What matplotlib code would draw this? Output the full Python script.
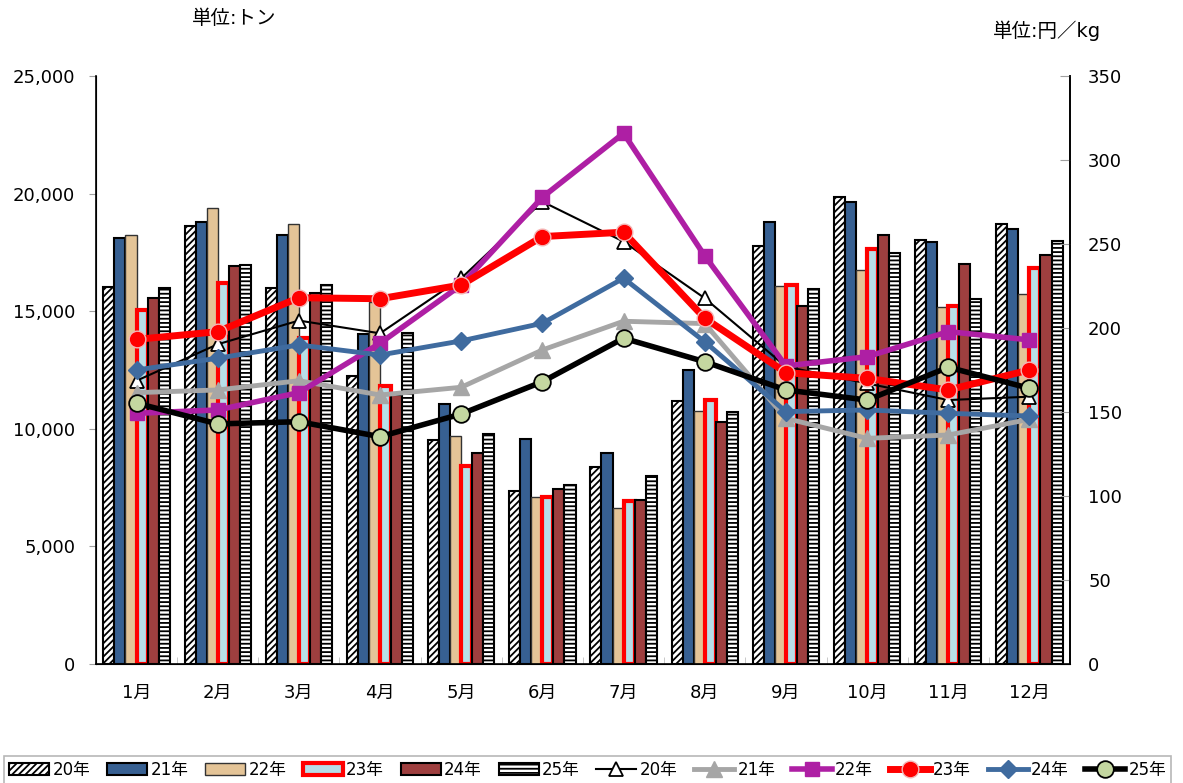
import numpy as np
import matplotlib
matplotlib.use("Agg")
import matplotlib.pyplot as plt
from matplotlib.ticker import FuncFormatter, MultipleLocator

plt.rcParams['font.family'] = ['DejaVu Sans', 'Noto Sans CJK JP']
plt.rcParams['hatch.linewidth'] = 1.3

months = ['1月', '2月', '3月', '4月', '5月', '6月', '7月', '8月', '9月', '10月', '11月', '12月']
years = ['20年', '21年', '22年', '23年', '24年', '25年']

# 入荷量 (トン)
vol20 = [16030, 18640, 16000, 12240, 9520, 7370, 8360, 11160, 17760, 19850, 18010, 18690]
vol21 = [18110, 18780, 18230, 14030, 11050, 9550, 8960, 12510, 18770, 19630, 17950, 18490]
vol22 = [18240, 19400, 18710, 15400, 9690, 7110, 6620, 10760, 16090, 16740, 15170, 15710]
vol23 = [15050, 16190, 13850, 11820, 8430, 7090, 6930, 11220, 16130, 17640, 15200, 16820]
vol24 = [15550, 16920, 15790, 11440, 8960, 7430, 6970, 10280, 15240, 18240, 17020, 17380]
vol25 = [15990, 16960, 16110, 14060, 9780, 7620, 8000, 10710, 15960, 17490, 15520, 17980]

# 価格 (円/kg)
price20 = [168.6, 190.3, 204.4, 196.8, 229.6, 275.2, 251.4, 217.7, 177.0, 167.0, 157.1, 159.1]
price21 = [161.5, 163.1, 168.6, 160.1, 164.7, 186.9, 204.0, 202.6, 146.2, 134.3, 136.3, 145.6]
price22 = [149.2, 151.2, 161.5, 190.9, 225.6, 277.8, 315.9, 242.9, 177.4, 182.9, 197.8, 192.9]
price23 = [193.2, 197.8, 218.0, 217.4, 225.6, 254.4, 257.0, 205.8, 173.4, 170.0, 163.1, 175.0]
price24 = [175.0, 182.0, 189.9, 183.9, 192.3, 202.8, 229.6, 191.8, 150.2, 151.2, 149.2, 147.6]
price25 = [155.2, 142.9, 144.2, 135.3, 148.8, 168.0, 193.9, 179.9, 163.1, 157.1, 176.6, 164.1]

volumes = [vol20, vol21, vol22, vol23, vol24, vol25]
prices = [price20, price21, price22, price23, price24, price25]

bar_styles = [
    dict(color="white", edgecolor="black", hatch="/////", lw=1.5),
    dict(color="#376092", edgecolor="black", lw=1.5),
    dict(color="#E4C497", edgecolor="#333333", lw=1.0),
    dict(color="#B7DEE8", edgecolor="#FF0000", lw=3.0),
    dict(color="#9E3F3F", edgecolor="black", lw=1.5),
    dict(color="white", edgecolor="black", hatch="----", lw=1.5),
]
line_styles = [
    dict(color="black", lw=1.5, marker="^", ms=10, mfc="white", mec="black", mew=1.3),
    dict(color="#A6A6A6", lw=3.5, marker="^", ms=11, mfc="#A6A6A6", mec="#A6A6A6"),
    dict(color="#AE1FA4", lw=4.0, marker="s", ms=10, mfc="#AE1FA4", mec="#AE1FA4"),
    dict(color="#FF0000", lw=5.0, marker="o", ms=12, mfc="#FF0000", mec="#F4B6B6", mew=1.0),
    dict(color="#3F6B9F", lw=3.5, marker="D", ms=9, mfc="#3F6B9F", mec="#3F6B9F"),
    dict(color="black", lw=4.0, marker="o", ms=12, mfc="#C4D7A0", mec="black", mew=1.3),
]

x = np.arange(len(months))
w = 0.136

fig = plt.figure(figsize=(11.83, 7.83), dpi=100)
ax = fig.add_axes([0.0811, 0.152, 0.8234, 0.751])
for i, (vals, st) in enumerate(zip(volumes, bar_styles)):
    ax.bar(x + (i - 2.5) * w, vals, w, label=years[i], zorder=2, **st)

ax.set_xlim(-0.5, 11.5)
ax.set_ylim(0, 25000)
ax.yaxis.set_major_locator(MultipleLocator(5000))
ax.yaxis.set_major_formatter(FuncFormatter(lambda v, p: f"{int(v):,}"))
ax.set_xticks(x)
ax.set_xticklabels(months, fontsize=13)
ax.set_xticks(np.arange(-0.5, 12, 1), minor=True)
ax.tick_params(axis="x", which="major", length=0, pad=14)
ax.tick_params(axis="x", which="minor", length=5, direction="in", color="#BFBFBF")
ax.tick_params(axis="y", length=5, color="#A0A0A0", labelsize=13, pad=10)
ax.spines["top"].set_visible(False)
for s in ["left", "bottom", "right"]:
    ax.spines[s].set_linewidth(1.2)

ax2 = ax.twinx()
for i, (vals, st) in enumerate(zip(prices, line_styles)):
    ax2.plot(x, vals, label=years[i], zorder=3, **st)
ax2.set_ylim(0, 350)
ax2.yaxis.set_major_locator(MultipleLocator(50))
ax2.tick_params(axis="y", length=7, direction="in", color="#A0A0A0", labelsize=13, pad=13)
ax2.spines["top"].set_visible(False)
ax2.spines["right"].set_linewidth(1.2)

fig.text(0.162, 0.976, "単位:トン", fontsize=14, va="center")
fig.text(0.839, 0.961, "単位:円／kg", fontsize=14, va="center")

h1, l1 = ax.get_legend_handles_labels()
h2, l2 = ax2.get_legend_handles_labels()
leg = fig.legend(h1 + h2, l1 + l2, loc="lower center", bbox_to_anchor=(0.497, -0.012),
                 ncol=12, fontsize=12, frameon=True, fancybox=False, edgecolor="#A6A6A6",
                 handlelength=2.4, handletextpad=0.2, columnspacing=1.0, borderpad=0.3)
leg.get_frame().set_linewidth(1.2)

plt.savefig("out.png", dpi=100)
plt.close()
